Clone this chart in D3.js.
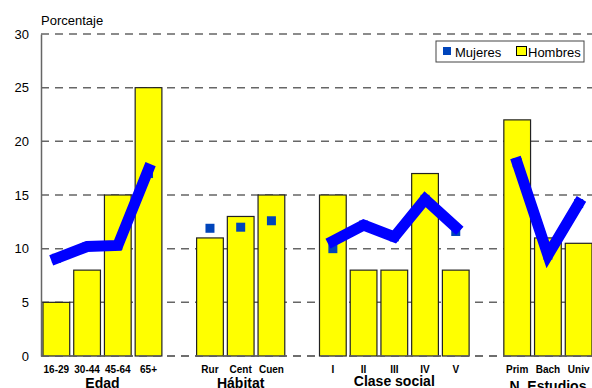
<!DOCTYPE html>
<html><head><meta charset="utf-8">
<script src="https://cdn.jsdelivr.net/npm/d3@7"></script>
<style>body{margin:0;background:#fff}svg{display:block;font-family:Arial,"Liberation Sans",sans-serif}</style>
</head><body><svg id="c" width="592" height="388"></svg>
<script>
const slots = ["16-29","30-44","45-64","65+","g1","Rur","Cent","Cuen","g2","I","II","III","IV","V","g3","Prim","Bach","Univ"];
const categories = ["16-29","30-44","45-64","65+","Rur","Cent","Cuen","I","II","III","IV","V","Prim","Bach","Univ"];
const hombres = [5,8,15,25,11,13,15,15,8,8,17,8,22,11,10.5];
const mujeres = [9.1,10.2,10.3,17.0,11.9,12,12.6,10.0,12.2,11.1,14.6,11.6,18.0,9.4,14.2];
const mujeresLinea = [9.1,10.2,10.3,17.4,null,null,null,10.7,12.2,11.1,14.6,12.0,18.0,9.4,14.2];
const groups = [
  {name:"Edad", cats:["16-29","30-44","45-64","65+"], line:true, dy:388},
  {name:"Hábitat", cats:["Rur","Cent","Cuen"], line:false, dy:388},
  {name:"Clase social", cats:["I","II","III","IV","V"], line:true, dy:386},
  {name:"N. Estudios", cats:["Prim","Bach","Univ"], line:true, dy:391}
];
const yTicks = [0,5,10,15,20,25,30];

const svg = d3.select("#c");
const m = {l:41, r:-2, t:34, b:356};
const x = d3.scaleBand().domain(slots).range([m.l, 592 - m.r]).paddingInner(0.13).paddingOuter(0.065);
const y = d3.scaleLinear().domain([0,30]).range([m.b, m.t]);
const cx = c => x(c) + x.bandwidth()/2;

// gridlines
svg.append("g").selectAll("line").data(yTicks).join("line")
  .attr("x1", m.l).attr("x2", 592).attr("y1", d=>y(d)).attr("y2", d=>y(d))
  .attr("stroke", "#666").attr("stroke-width", 1.5).attr("stroke-dasharray", "8,6");

// y axis
const ya = svg.append("g").attr("transform", `translate(${m.l},0)`)
  .call(d3.axisLeft(y).tickValues(yTicks).tickSize(0).tickPadding(12));
ya.select(".domain").attr("stroke", "#666").attr("stroke-width", 1.5);
ya.selectAll("text").attr("font-size", 13).attr("fill", "#000").attr("font-family", "Arial, 'Liberation Sans', sans-serif");

svg.append("text").attr("x", 41).attr("y", 25).attr("font-size", 13).text("Porcentaje");

// bars
svg.append("g").selectAll("rect").data(categories).join("rect")
  .attr("x", c => x(c)).attr("width", x.bandwidth())
  .attr("y", (c,i) => y(hombres[i])).attr("height", (c,i) => y(0) - y(hombres[i]))
  .attr("fill", "#ffff00").attr("stroke", "#222").attr("stroke-width", 1.2);

// baseline
svg.append("line").attr("x1", m.l).attr("x2", 592).attr("y1", y(0)).attr("y2", y(0))
  .attr("stroke", "#666").attr("stroke-width", 1.5).attr("stroke-dasharray", "8,6");

// markers
const ms = 9;
svg.append("g").selectAll("rect").data(categories).join("rect")
  .attr("x", c => cx(c) - ms/2).attr("y", (c,i) => y(mujeres[i]) - ms/2)
  .attr("width", ms).attr("height", ms).attr("fill", "#0044bb");

// lines
const line = d3.line().x(d => cx(d)).y(d => y(mujeresLinea[categories.indexOf(d)]));
svg.append("g").selectAll("path").data(groups.filter(g => g.line)).join("path")
  .attr("d", g => line(g.cats)).attr("fill", "none").attr("stroke", "#0000ff")
  .attr("stroke-width", 11).attr("stroke-linejoin", "miter").attr("stroke-linecap", "square");

// x labels
svg.append("g").selectAll("text").data(categories).join("text")
  .attr("x", c => cx(c)).attr("y", 373).attr("text-anchor", "middle")
  .attr("font-size", 10).attr("font-weight", "bold").text(c => c);

// group labels
svg.append("g").selectAll("text").data(groups).join("text")
  .attr("x", g => (cx(g.cats[0]) + cx(g.cats[g.cats.length-1]))/2).attr("y", g => g.dy)
  .attr("text-anchor", "middle").attr("font-size", 14).attr("font-weight", "bold").text(g => g.name);

// legend
const lg = svg.append("g");
lg.append("rect").attr("x", 436).attr("y", 41).attr("width", 148).attr("height", 21)
  .attr("fill", "#fff").attr("stroke", "#444").attr("stroke-width", 1);
lg.append("rect").attr("x", 443).attr("y", 47).attr("width", 8).attr("height", 8).attr("fill", "#0044bb");
lg.append("text").attr("x", 455).attr("y", 56.5).attr("font-size", 13).text("Mujeres");
lg.append("rect").attr("x", 516.5).attr("y", 46.5).attr("width", 10).attr("height", 9).attr("fill", "#ffff00").attr("stroke", "#000");
lg.append("text").attr("x", 528).attr("y", 56.5).attr("font-size", 13).text("Hombres");
</script></body></html>
